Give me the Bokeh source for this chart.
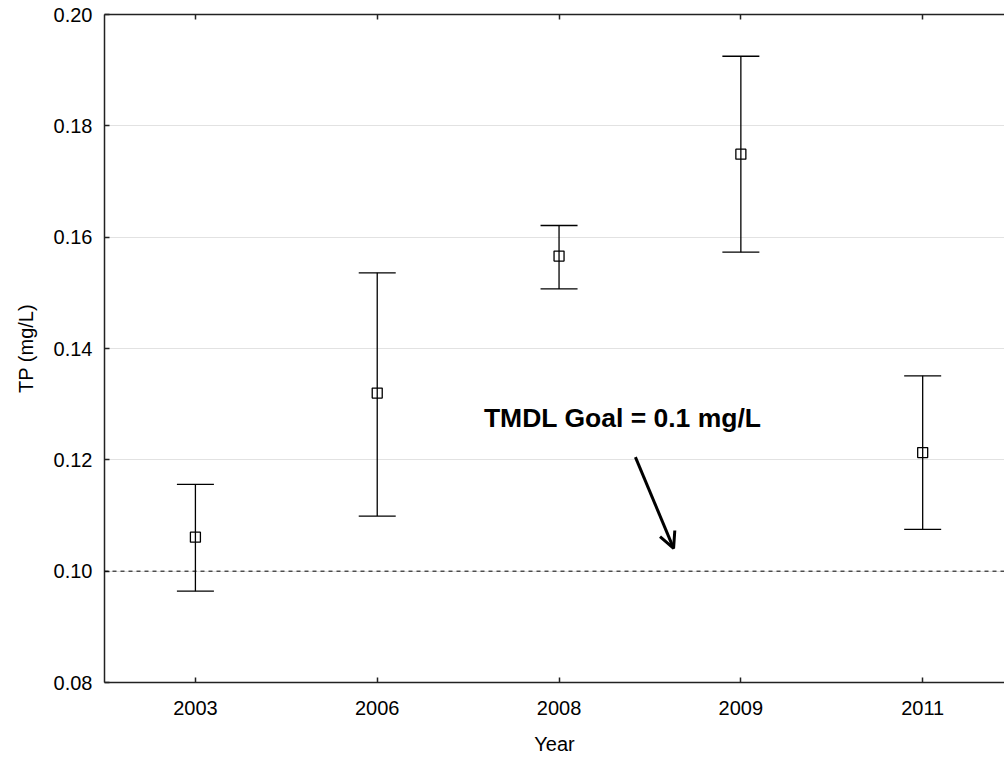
from bokeh.plotting import figure
from bokeh.models import (Range1d, FixedTicker, NumeralTickFormatter, LinearAxis,
                          ColumnDataSource, Whisker, TeeHead, Span, Arrow, OpenHead, Label)
from bokeh.embed import file_html
from bokeh.resources import INLINE

# ---- data ----
years = ["2003", "2006", "2008", "2009", "2011"]
tp_mean = [0.1061, 0.1320, 0.1566, 0.1749, 0.1213]
tp_upper = [0.1156, 0.1536, 0.1621, 0.1925, 0.1351]
tp_lower = [0.0964, 0.1099, 0.1507, 0.1573, 0.1075]
y_ticks = [0.08, 0.10, 0.12, 0.14, 0.16, 0.18, 0.20]
goal_value = 0.10
goal_text = "TMDL Goal = 0.1 mg/L"
# annotation placement (data coords)
goal_label_pos = (2.35, 0.1275)
arrow_start = (2.42, 0.1205)
arrow_end = (2.63, 0.1041)

FONT = "Liberation Sans"
xs = list(range(len(years)))

src = ColumnDataSource(dict(x=xs, mean=tp_mean, upper=tp_upper, lower=tp_lower))

p = figure(width=1004, height=759,
           x_range=Range1d(-0.5, 4.45), y_range=Range1d(0.08, 0.20),
           output_backend="svg", toolbar_location=None,
           min_border_left=104, min_border_right=0, min_border_top=14, min_border_bottom=77,
           x_axis_label="Year", y_axis_label="TP (mg/L)")
p.outline_line_color = None
p.background_fill_color = "white"
p.border_fill_color = "white"

# axes
xa = p.xaxis[0]
xa.ticker = FixedTicker(ticks=xs)
xa.major_label_overrides = {i: y for i, y in enumerate(years)}
ya = p.yaxis[0]
ya.ticker = FixedTicker(ticks=y_ticks)
ya.formatter = NumeralTickFormatter(format="0.00")

for ax in (xa, ya):
    ax.axis_line_color = "#222222"
    ax.axis_line_width = 1.5
    ax.major_tick_line_color = "#222222"
    ax.major_tick_line_width = 1.5
    ax.major_tick_in = 5
    ax.major_tick_out = 0
    ax.minor_tick_line_color = None
    ax.major_label_text_font = FONT
    ax.major_label_text_font_size = "20px"
    ax.major_label_text_color = "black"
    ax.axis_label_text_font = FONT
    ax.axis_label_text_font_size = "20px"
    ax.axis_label_text_font_style = "normal"
    ax.axis_label_text_color = "black"
xa.major_label_standoff = 18
xa.axis_label_standoff = 15
ya.major_label_standoff = 12
ya.axis_label_standoff = 14

top = LinearAxis(ticker=FixedTicker(ticks=xs),
                 major_label_overrides={i: "" for i in xs},
                 major_label_standoff=0, axis_line_color="#222222", axis_line_width=1.5,
                 major_tick_line_color="#222222", major_tick_line_width=1.5,
                 major_tick_in=5, major_tick_out=0, minor_tick_line_color=None)
p.add_layout(top, "above")

p.xgrid.grid_line_color = None
p.ygrid.ticker = FixedTicker(ticks=y_ticks)
p.ygrid.grid_line_color = "#e2e2e2"
p.ygrid.grid_line_width = 1

# goal line
p.add_layout(Span(location=goal_value, dimension="width", line_color="black",
                  line_width=1, line_dash="4 4"))

# error bars
p.add_layout(Whisker(source=src, base="x", upper="upper", lower="lower",
                     line_color="black", line_width=1.3,
                     upper_head=TeeHead(size=37, line_color="black", line_width=1.3),
                     lower_head=TeeHead(size=37, line_color="black", line_width=1.3)))
p.scatter("x", "mean", source=src, marker="square", size=10,
          fill_color=None, line_color="black", line_width=1.3)

# annotation
p.add_layout(Label(x=goal_label_pos[0], y=goal_label_pos[1], text=goal_text,
                   text_font=FONT, text_font_size="26.5px", text_font_style="bold",
                   text_align="center", text_baseline="middle", text_color="black"))
p.add_layout(Arrow(x_start=arrow_start[0], y_start=arrow_start[1],
                   x_end=arrow_end[0], y_end=arrow_end[1],
                   line_color="black", line_width=3,
                   end=OpenHead(size=16, line_color="black", line_width=3)))

open("out.html", "w").write(file_html(p, INLINE))
